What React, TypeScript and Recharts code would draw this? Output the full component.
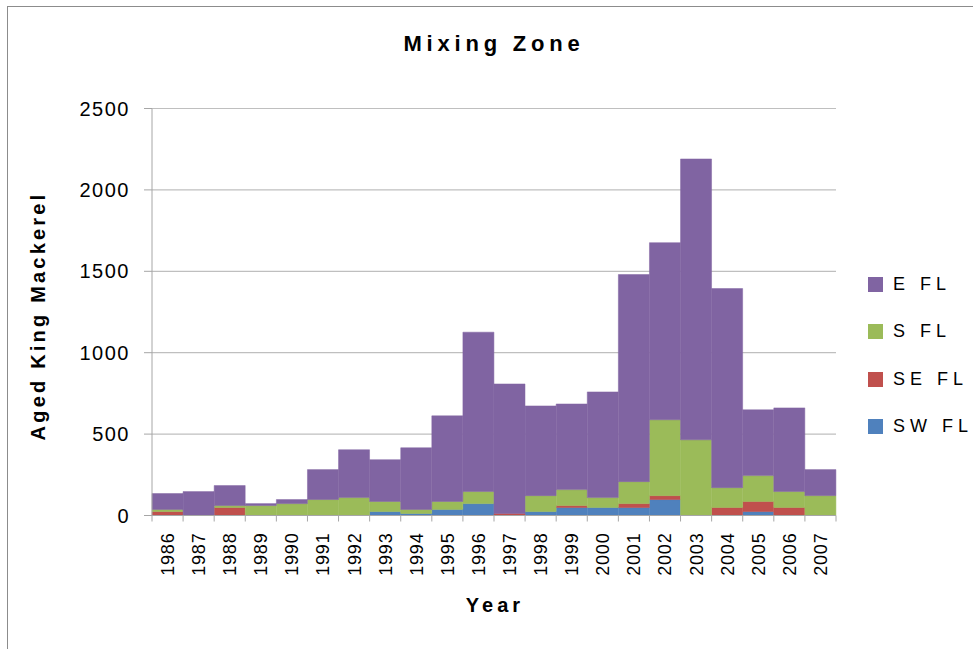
import { BarChart, Bar, XAxis, YAxis, CartesianGrid, Legend } from 'recharts';

const years = [
  '1986', '1987', '1988', '1989', '1990', '1991', '1992', '1993', '1994', '1995', '1996',
  '1997', '1998', '1999', '2000', '2001', '2002', '2003', '2004', '2005', '2006', '2007',
];

// stacked bottom to top: SW, SE, S, E
const swFl = [0, 0, 0, 0, 0, 0, 0, 24, 12, 37, 73, 0, 24, 49, 49, 49, 98, 0, 0, 24, 0, 0];
const seFl = [24, 0, 49, 0, 0, 0, 0, 0, 0, 0, 0, 12, 0, 12, 0, 24, 24, 0, 49, 62, 49, 0];
const sFl = [13, 0, 12, 61, 73, 98, 110, 62, 25, 49, 74, 0, 98, 98, 61, 135, 466, 465, 122, 159, 98, 122];
const eFl = [98, 147, 123, 12, 25, 184, 294, 257, 379, 526, 979, 796, 551, 526, 649, 1272, 1088, 1725, 1223, 404, 514, 160];

const yTicks = [0, 500, 1000, 1500, 2000, 2500];

const series = [
  { key: 'sw', name: 'SW FL', color: '#4F81BD' },
  { key: 'se', name: 'SE FL', color: '#C0504D' },
  { key: 's', name: 'S FL', color: '#9BBB59' },
  { key: 'e', name: 'E FL', color: '#8064A2' },
];

const data = years.map((year, i) => ({
  year,
  sw: swFl[i],
  se: seFl[i],
  s: sFl[i],
  e: eFl[i],
}));

const FONT = '"Liberation Sans", Arial, sans-serif';
const AXIS = '#a6a6a6';
const LABEL_GAP = 17;

// year label plus the tick marks on the band edges (Excel style)
const YearTick = (props: any) => {
  const { x, y, payload, index, visibleTicksCount } = props;
  const half = payload?.offset ?? 0;
  const axisY = y - LABEL_GAP;
  const isLast = index === visibleTicksCount - 1;
  return (
    <g>
      <line x1={x - half} x2={x - half} y1={axisY} y2={axisY + 6} stroke={AXIS} />
      {isLast && (
        <line x1={x + half} x2={x + half} y1={axisY} y2={axisY + 6} stroke={AXIS} />
      )}
      <text
        x={x}
        y={y}
        transform={`rotate(-90 ${x} ${y})`}
        textAnchor="end"
        dy="0.36em"
        fontSize={18}
        fontFamily={FONT}
        letterSpacing={0.8}
        fill="#000"
      >
        {payload.value}
      </text>
    </g>
  );
};

const LegendBox = () => (
  <div style={{ fontFamily: FONT }}>
    {[...series].reverse().map((s) => (
      <div
        key={s.key}
        style={{ display: 'flex', alignItems: 'center', height: 47.3 }}
      >
        <span style={{ width: 15, height: 15, background: s.color, marginRight: 10 }} />
        <span style={{ fontSize: 18, letterSpacing: 5, color: '#000' }}>{s.name}</span>
      </div>
    ))}
  </div>
);

export default function App() {
  return (
    <div
      style={{
        position: 'absolute',
        left: 7,
        top: 6,
        width: 966,
        height: 643,
        borderLeft: '1px solid #8c8c8c',
        borderTop: '1px solid #8c8c8c',
        background: '#fff',
      }}
    >
      <div
        style={{
          position: 'absolute',
          left: 0,
          width: 972,
          top: 24,
          textAlign: 'center',
          fontFamily: FONT,
          fontWeight: 'bold',
          fontSize: 22,
          letterSpacing: 4.8,
        }}
      >
        Mixing Zone
      </div>
      <div
        style={{
          position: 'absolute',
          left: 30,
          top: 309,
          transform: 'translate(-50%, -50%) rotate(-90deg)',
          whiteSpace: 'nowrap',
          fontFamily: FONT,
          fontWeight: 'bold',
          fontSize: 20,
          letterSpacing: 3.2,
        }}
      >
        Aged King Mackerel
      </div>
      <div
        style={{
          position: 'absolute',
          left: 487,
          top: 598,
          transform: 'translate(-50%, -50%)',
          fontFamily: FONT,
          fontWeight: 'bold',
          fontSize: 20,
          letterSpacing: 4,
        }}
      >
        Year
      </div>
      <BarChart
        width={965}
        height={642}
        data={data}
        barCategoryGap={0}
        barGap={0}
        margin={{ top: 101.5, right: 137, left: 0, bottom: 0 }}
      >
        <CartesianGrid vertical={false} stroke="#bfbfbf" strokeWidth={1.2} />
        <XAxis
          dataKey="year"
          height={133.5}
          interval={0}
          tickLine={false}
          tickSize={0}
          tickMargin={LABEL_GAP}
          axisLine={{ stroke: AXIS }}
          tick={YearTick}
        />
        <YAxis
          width={144}
          domain={[0, 2500]}
          ticks={yTicks}
          tickSize={8}
          tickMargin={14}
          axisLine={{ stroke: AXIS }}
          tickLine={{ stroke: AXIS }}
          tick={{ fontSize: 20, fill: '#000', fontFamily: FONT, letterSpacing: 1.5 }}
        />
        <Legend
          layout="vertical"
          align="center"
          verticalAlign="middle"
          content={LegendBox}
          wrapperStyle={{ left: 860, top: 254, width: 110 }}
        />
        {series.map((s) => (
          <Bar
            key={s.key}
            dataKey={s.key}
            name={s.name}
            stackId="a"
            fill={s.color}
            stroke={s.color}
            strokeWidth={0.5}
            isAnimationActive={false}
          />
        ))}
      </BarChart>
    </div>
  );
}
